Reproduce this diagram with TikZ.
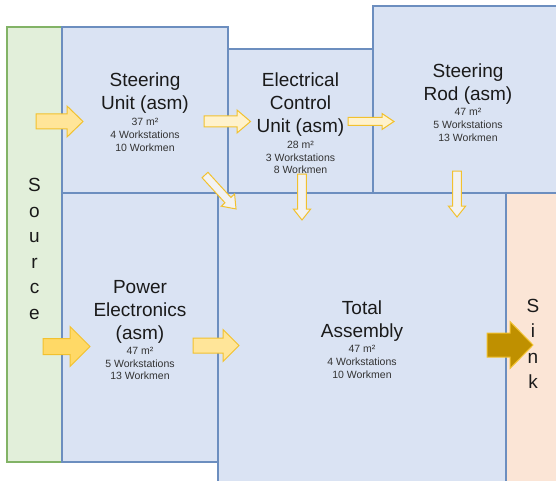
\documentclass[tikz,border=0pt]{standalone}
\usepackage{fontspec}
\setmainfont{Liberation Sans}
\definecolor{bluefill}{HTML}{DAE3F3}
\definecolor{bluedraw}{HTML}{6C8EBF}
\definecolor{greenfill}{HTML}{E2EFDA}
\definecolor{greendraw}{HTML}{82B366}
\definecolor{sinkfill}{HTML}{FBE5D6}
\definecolor{arrdraw}{HTML}{F2C12E}
\definecolor{arrfillA}{HTML}{FFE599}
\definecolor{arrfillB}{HTML}{FFF2CC}
\definecolor{arrfillC}{HTML}{F2F2F2}
\definecolor{arrfillD}{HTML}{FFD966}
\definecolor{arrfillE}{HTML}{BF9000}
\definecolor{titlec}{HTML}{1A1A1A}
\definecolor{detailc}{HTML}{333333}
\newcommand\blockarr[8]{%
  \path[#1, shift={(#2,#3)}, rotate=#4] (0,-#6) -- ({#5-#8},-#6) -- ({#5-#8},-#7) -- (#5,0) -- ({#5-#8},#7) -- ({#5-#8},#6) -- (0,#6) -- cycle;}
\tikzset{
  bluebox/.style={draw=bluedraw, fill=bluefill, line width=1.2pt, inner sep=0pt, rectangle},
  greenbox/.style={draw=greendraw, fill=greenfill, line width=1.2pt, inner sep=0pt, rectangle},
  sinkbox/.style={draw=none, fill=sinkfill, inner sep=0pt, rectangle},
  arrbase/.style={draw=arrdraw, line width=1pt, line join=miter},
  arrA/.style={arrbase, fill=arrfillA},
  arrB/.style={arrbase, fill=arrfillB},
  arrC/.style={arrbase, fill=arrfillC},
  arrD/.style={arrbase, fill=arrfillD},
  arrE/.style={arrbase, fill=arrfillE},
  titlet/.style={align=center, font=\fontsize{19}{23}\selectfont, text=titlec, inner sep=0pt},
  detailt/.style={align=center, font=\fontsize{10.5}{12.7}\selectfont, text=detailc, inner sep=0pt},
  vertt/.style={align=center, font=\fontsize{19}{25.5}\selectfont, text=titlec, inner sep=0pt},
}
\begin{document}
\begin{tikzpicture}[x=1pt,y=-1pt]
\useasboundingbox (0,0) rectangle (556,481);
\clip (0,0) rectangle (556,481);
\fill[white] (0,0) rectangle (556,481);
% boxes
\node[greenbox, minimum width=55pt, minimum height=435pt] (src) at (34.5,244.5) {};
\node[sinkbox, minimum width=74pt, minimum height=297pt] (sink) at (543,341.5) {};
\node[bluebox, minimum width=166pt, minimum height=166pt] (su) at (145,110) {};
\node[bluebox, minimum width=145pt, minimum height=144pt] (ecu) at (300.5,121) {};
\node[bluebox, minimum width=190pt, minimum height=187pt] (sr) at (468,99.5) {};
\node[bluebox, minimum width=156pt, minimum height=269pt] (pe) at (140,327.5) {};
\node[bluebox, minimum width=288pt, minimum height=293pt] (tot) at (362,339.5) {};
% texts
\node[vertt] (src-t) at (34.5,249) {S\\o\\u\\r\\c\\e};
\node[vertt] (sink-t) at (533,344) {S\\i\\n\\k};
\node[titlet] (su-t) at (145,93.5) {Steering\\Unit (asm)};
\node[detailt] (su-d) at (145,135) {37 m²\\4 Workstations\\10 Workmen};
\node[titlet] (ecu-t) at (300.5,105) {Electrical\\Control\\Unit (asm)};
\node[detailt] (ecu-d) at (300.5,157.5) {28 m²\\3 Workstations\\8 Workmen};
\node[titlet] (sr-t) at (468,84.5) {Steering\\Rod (asm)};
\node[detailt] (sr-d) at (468,125) {47 m²\\5 Workstations\\13 Workmen};
\node[titlet] (pe-t) at (140,312) {Power\\Electronics\\(asm)};
\node[detailt] (pe-d) at (140,363.5) {47 m²\\5 Workstations\\13 Workmen};
\node[titlet] (tot-t) at (362,321.5) {Total\\Assembly};
\node[detailt] (tot-d) at (362,362) {47 m²\\4 Workstations\\10 Workmen};
% block arrows
\blockarr{arrA}{36}{121.5}{0}{47}{7.5}{15.5}{16}
\blockarr{arrB}{204}{121.5}{0}{46.5}{5.5}{11.5}{13.5}
\blockarr{arrB}{348}{121.5}{0}{46}{4}{8}{12}
\blockarr{arrC}{205}{175}{-47.6}{46}{4}{9}{12}
\blockarr{arrC}{302}{174}{-90}{46}{4.3}{8.7}{11}
\blockarr{arrC}{457}{171}{-90}{46}{4.3}{8.7}{11}
\blockarr{arrD}{43}{346.5}{0}{47}{8}{20}{20}
\blockarr{arrA}{193}{345.5}{0}{46}{7.5}{16}{16}
\blockarr{arrE}{487}{345}{0}{46}{12}{23.5}{23}
\end{tikzpicture}
\end{document}
